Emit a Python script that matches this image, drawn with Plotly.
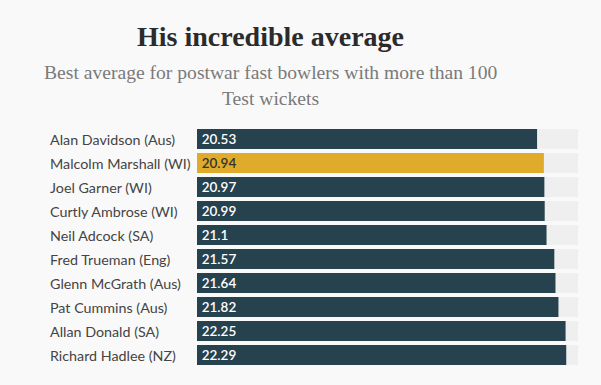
import plotly.graph_objects as go

players = ["Alan Davidson (Aus)", "Malcolm Marshall (WI)", "Joel Garner (WI)",
           "Curtly Ambrose (WI)", "Neil Adcock (SA)", "Fred Trueman (Eng)",
           "Glenn McGrath (Aus)", "Pat Cummins (Aus)", "Allan Donald (SA)",
           "Richard Hadlee (NZ)"]
averages = [20.53, 20.94, 20.97, 20.99, 21.1, 21.57, 21.64, 21.82, 22.25, 22.29]
value_labels = ["20.53", "20.94", "20.97", "20.99", "21.1", "21.57", "21.64", "21.82", "22.25", "22.29"]
highlight = "Malcolm Marshall (WI)"
axis_max = 23

W, H = 601, 385
L, R, T, B = 197, 23, 127, 18
pw, ph = W - L - R, H - T - B

dark = "#26424f"
gold = "#e0ab2b"
colors = [gold if p == highlight else dark for p in players]
tcolors = ["#333333" if p == highlight else "#ffffff" for p in players]

fig = go.Figure()
fig.add_trace(go.Bar(
    y=players, x=[axis_max] * len(players), orientation="h",
    marker=dict(color="#efefef", line=dict(width=0)),
    hoverinfo="skip", showlegend=False))
fig.add_trace(go.Bar(
    y=players, x=averages, orientation="h",
    marker=dict(color=colors, line=dict(width=0)),
    text=["\u2009" + v for v in value_labels], textposition="inside", insidetextanchor="start",
    constraintext="none",
    textfont=dict(family="Lato", size=13.5, color=tcolors, weight=600),
    cliponaxis=False, showlegend=False))

def px_x(p):
    return (p - L) / pw

def px_y(p):
    return (H - B - p) / ph

annotations = []
for p in players:
    annotations.append(dict(
        x=px_x(48), xref="paper", y=p, yref="y", xanchor="left", yanchor="middle",
        text=p, showarrow=False, font=dict(family="Lato", size=14.3, color="#444444")))

annotations.append(dict(
    x=px_x(270), xref="paper", y=px_y(36), yref="paper", xanchor="center", yanchor="middle",
    text="<b>His incredible average</b>", showarrow=False,
    font=dict(family="Liberation Serif", size=28, color="#2b2b2b")))
annotations.append(dict(
    x=px_x(270), xref="paper", y=px_y(73), yref="paper", xanchor="center", yanchor="middle",
    text="Best average for postwar fast bowlers with more than 100", showarrow=False,
    font=dict(family="Liberation Serif", size=19.6, color="#7a7a7a")))
annotations.append(dict(
    x=px_x(270), xref="paper", y=px_y(98), yref="paper", xanchor="center", yanchor="middle",
    text="Test wickets", showarrow=False,
    font=dict(family="Liberation Serif", size=19.6, color="#7a7a7a")))

fig.update_layout(
    width=W, height=H,
    margin=dict(l=L, r=R, t=T, b=B, pad=0),
    paper_bgcolor="#f9f9f9", plot_bgcolor="#f9f9f9",
    barmode="overlay", bargap=4 / 24,
    xaxis=dict(range=[0, axis_max], visible=False, fixedrange=True),
    yaxis=dict(autorange="reversed", showticklabels=False, showgrid=False,
               zeroline=False, ticks="", fixedrange=True),
    annotations=annotations,
)

fig.write_html("out.html", config={"displayModeBar": False},
               post_script="document.body.style.margin='0';document.body.style.background='#f9f9f9';")
